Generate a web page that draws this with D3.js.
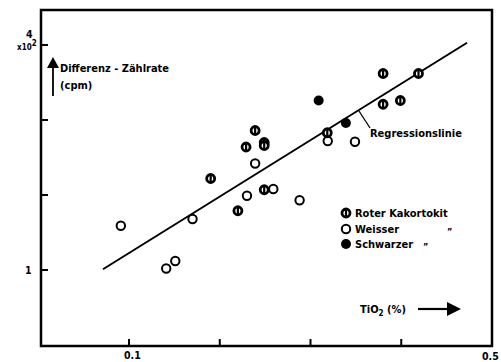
<!DOCTYPE html>
<html><head><meta charset="utf-8">
<script src="https://cdn.jsdelivr.net/npm/d3@7"></script>
<style>
body{margin:0;background:#fff;}
text{font-family:"DejaVu Sans Condensed","Liberation Sans Narrow","DejaVu Sans",sans-serif;font-weight:bold;fill:#000;}
</style></head>
<body><svg id="c" width="501" height="362"></svg>
<script>
// TiO2 (%) vs Differenz-Zählrate (x10^2 cpm)
const rotX = [0.190,0.239,0.229,0.249,0.249,0.220,0.249,0.3185,0.380,0.380,0.399,0.419];
const rotY = [2.22,2.86,2.64,2.70,2.66,1.79,2.07,2.83,3.62,3.21,3.26,3.62];
const weissX = [0.091,0.141,0.151,0.170,0.239,0.230,0.259,0.288,0.319,0.349];
const weissY = [1.59,1.02,1.12,1.68,2.42,1.99,2.08,1.93,2.72,2.71];
const schwarzX = [0.309,0.339];
const schwarzY = [3.26,2.96];
const regX = [0.0713,0.4725];
const regY = [1.01,4.03];
const xTicks = [0.1,0.2,0.3,0.4,0.5];
const yTicks = [1,2,3,4];
const legendLabels = ["Roter Kakortokit","Weisser","Schwarzer"];

const svg = d3.select("#c");
const L=41,R=492,T=10,B=346;
const x = d3.scaleLinear().domain([0,0.5]).range([38.25,492]);
const y = d3.scaleLinear().domain([0,4]).range([345,45]);

// frame
svg.append("rect").attr("x",L).attr("y",T).attr("width",R-L).attr("height",B-T)
  .attr("fill","none").attr("stroke","#000").attr("stroke-width",2.5);

// ticks
svg.append("g").selectAll("line").data(xTicks.slice(0,4)).join("line")
  .attr("x1",d=>x(d)).attr("x2",d=>x(d)).attr("y1",B).attr("y2",B-7)
  .attr("stroke","#000").attr("stroke-width",2);
svg.append("g").selectAll("line").data(yTicks).join("line")
  .attr("x1",L).attr("x2",L+7).attr("y1",d=>y(d)).attr("y2",d=>y(d))
  .attr("stroke","#000").attr("stroke-width",2);

// tick labels
svg.append("text").attr("x",x(0.1)-5).attr("y",359).attr("font-size",10.5).text("0.1");
svg.append("text").attr("x",x(0.5)-10).attr("y",360).attr("font-size",10.5).text("0.5");
svg.append("text").attr("x",25).attr("y",y(1)+4).attr("font-size",10.5).text("1");
svg.append("text").attr("x",26).attr("y",y(4)-7).attr("font-size",10.5).text("4");
const xt = svg.append("text").attr("x",17).attr("y",y(4)+5).attr("font-size",8);
xt.append("tspan").text("x10");
xt.append("tspan").attr("dy",-4).attr("font-size",8).text("2");

// axis titles with arrows
svg.append("line").attr("x1",53).attr("x2",53).attr("y1",96).attr("y2",66).attr("stroke","#000").attr("stroke-width",1.8);
svg.append("path").attr("d","M47,68 L53,57 L59,68 Z").attr("fill","#000");
svg.append("text").attr("x",60).attr("y",72).attr("font-size",11).text("Differenz - Zählrate");
svg.append("text").attr("x",60).attr("y",89).attr("font-size",11).text("(cpm)");

svg.append("text").attr("x",360).attr("y",313).attr("font-size",11).html("TiO<tspan dy='3' font-size='8'>2</tspan><tspan dy='-3'> (%)</tspan>");
svg.append("line").attr("x1",418).attr("x2",450).attr("y1",309).attr("y2",309).attr("stroke","#000").attr("stroke-width",2.2);
svg.append("path").attr("d","M447,302 L461,309 L447,316 Z").attr("fill","#000");

// regression line
svg.append("line").attr("x1",x(regX[0])).attr("y1",y(regY[0])).attr("x2",x(regX[1])).attr("y2",y(regY[1]))
  .attr("stroke","#000").attr("stroke-width",2);
svg.append("line").attr("x1",359).attr("y1",111).attr("x2",370).attr("y2",128).attr("stroke","#000").attr("stroke-width",1.3);
svg.append("text").attr("x",370).attr("y",137).attr("font-size",11).text("Regressionslinie");

// markers
function rotMark(g,cx,cy){
  g.append("circle").attr("cx",cx).attr("cy",cy).attr("r",4).attr("fill","#fff").attr("stroke","#000").attr("stroke-width",2.8);
  g.append("line").attr("x1",cx).attr("x2",cx).attr("y1",cy-4).attr("y2",cy+4).attr("stroke","#000").attr("stroke-width",2.2);
}
function openMark(g,cx,cy){
  g.append("circle").attr("cx",cx).attr("cy",cy).attr("r",4.2).attr("fill","#fff").attr("stroke","#000").attr("stroke-width",2);
}
function fillMark(g,cx,cy){
  g.append("circle").attr("cx",cx).attr("cy",cy).attr("r",5).attr("fill","#000");
}
const gp = svg.append("g");
weissX.forEach((v,i)=>openMark(gp,x(v),y(weissY[i])));
rotX.forEach((v,i)=>rotMark(gp,x(v),y(rotY[i])));
schwarzX.forEach((v,i)=>fillMark(gp,x(v),y(schwarzY[i])));

// legend
const lg = svg.append("g");
const ly = [213,229,244];
rotMark(lg,346,ly[0]); openMark(lg,346,ly[1]); fillMark(lg,346,ly[2]);
legendLabels.forEach((t,i)=>lg.append("text").attr("x",355).attr("y",ly[i]+4).attr("font-size",11).text(t));
lg.append("text").attr("x",447).attr("y",ly[1]+6).attr("font-size",9).text("\u201D");
lg.append("text").attr("x",423).attr("y",ly[2]+6).attr("font-size",9).text("\u201D");
</script></body></html>
